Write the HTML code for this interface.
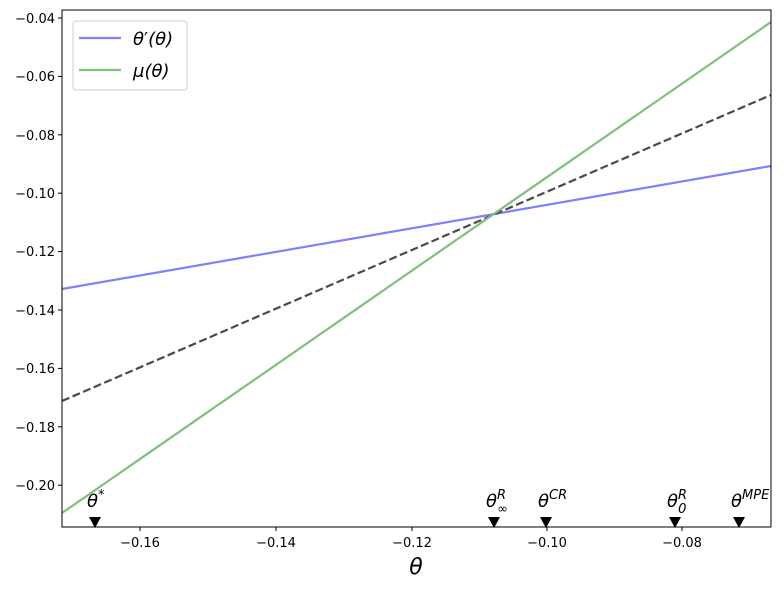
<!DOCTYPE html>
<html><head><style>body{margin:0;background:#fff}svg{display:block}text{font-family:"DejaVu Sans","Liberation Sans",sans-serif}</style></head>
<body>
<svg width="784" height="590" xmlns="http://www.w3.org/2000/svg">
<defs><clipPath id="c"><rect x="62" y="10" width="709" height="517"/></clipPath></defs>
<g clip-path="url(#c)">
<line x1="62" y1="289" x2="771" y2="166" stroke="#7f7fff" stroke-width="2.2"/>
<line x1="62" y1="401" x2="771" y2="95" stroke="#4a4a4a" stroke-width="2.2" stroke-dasharray="8,3.5"/>
<line x1="62" y1="513" x2="771" y2="22" stroke="#7fbf7f" stroke-width="2.2"/>
</g>
<g fill="#000">
<polygon points="89,517 101,517 95,528"/>
<polygon points="488,517 500,517 494,528"/>
<polygon points="540,517 552,517 546,528"/>
<polygon points="669,517 681,517 675,528"/>
<polygon points="733,517 745,517 739,528"/>
</g>
<g font-size="18" font-style="italic">
<text x="87" y="507">θ<tspan font-size="13" dy="-8">*</tspan></text>
<text x="486" y="507">θ<tspan font-size="13" dy="-8">R</tspan><tspan font-size="13" dx="-9" dy="14">∞</tspan></text>
<text x="538" y="507">θ<tspan font-size="13" dy="-8">CR</tspan></text>
<text x="667" y="507">θ<tspan font-size="13" dy="-8">R</tspan><tspan font-size="13" dx="-9" dy="14">0</tspan></text>
<text x="731" y="507">θ<tspan font-size="13" dy="-8">MPE</tspan></text>
</g>
<rect x="62" y="10" width="709" height="517" fill="none" stroke="#000" stroke-width="1"/>
<g stroke="#000"><line x1="140" y1="527" x2="140" y2="531"/><line x1="276" y1="527" x2="276" y2="531"/><line x1="412" y1="527" x2="412" y2="531"/><line x1="547" y1="527" x2="547" y2="531"/><line x1="682" y1="527" x2="682" y2="531"/>
<line x1="58" y1="18" x2="62" y2="18"/><line x1="58" y1="76.4" x2="62" y2="76.4"/><line x1="58" y1="134.8" x2="62" y2="134.8"/><line x1="58" y1="193.2" x2="62" y2="193.2"/><line x1="58" y1="251.6" x2="62" y2="251.6"/><line x1="58" y1="310" x2="62" y2="310"/><line x1="58" y1="368.4" x2="62" y2="368.4"/><line x1="58" y1="426.8" x2="62" y2="426.8"/><line x1="58" y1="485.2" x2="62" y2="485.2"/></g>
<g font-size="13" text-anchor="middle"><text x="140" y="547">−0.16</text><text x="276" y="547">−0.14</text><text x="412" y="547">−0.12</text><text x="547" y="547">−0.10</text><text x="682" y="547">−0.08</text></g>
<g font-size="13" text-anchor="end"><text x="55" y="23">−0.04</text><text x="55" y="81">−0.06</text><text x="55" y="140">−0.08</text><text x="55" y="198">−0.10</text><text x="55" y="256">−0.12</text><text x="55" y="315">−0.14</text><text x="55" y="373">−0.16</text><text x="55" y="432">−0.18</text><text x="55" y="490">−0.20</text></g>
<text x="416" y="574" font-size="22" font-style="italic" text-anchor="middle">θ</text>
<rect x="73" y="21" width="114" height="69" rx="3" fill="#fff" stroke="#ccc"/>
<line x1="79" y1="38" x2="121" y2="38" stroke="#7f7fff" stroke-width="2.2"/>
<line x1="79" y1="70" x2="121" y2="70" stroke="#7fbf7f" stroke-width="2.2"/>
<text x="133" y="45" font-size="18" font-style="italic">θ<tspan font-style="normal">′</tspan>(θ)</text>
<text x="133" y="77" font-size="18" font-style="italic">μ(θ)</text>
</svg>
</body></html>
